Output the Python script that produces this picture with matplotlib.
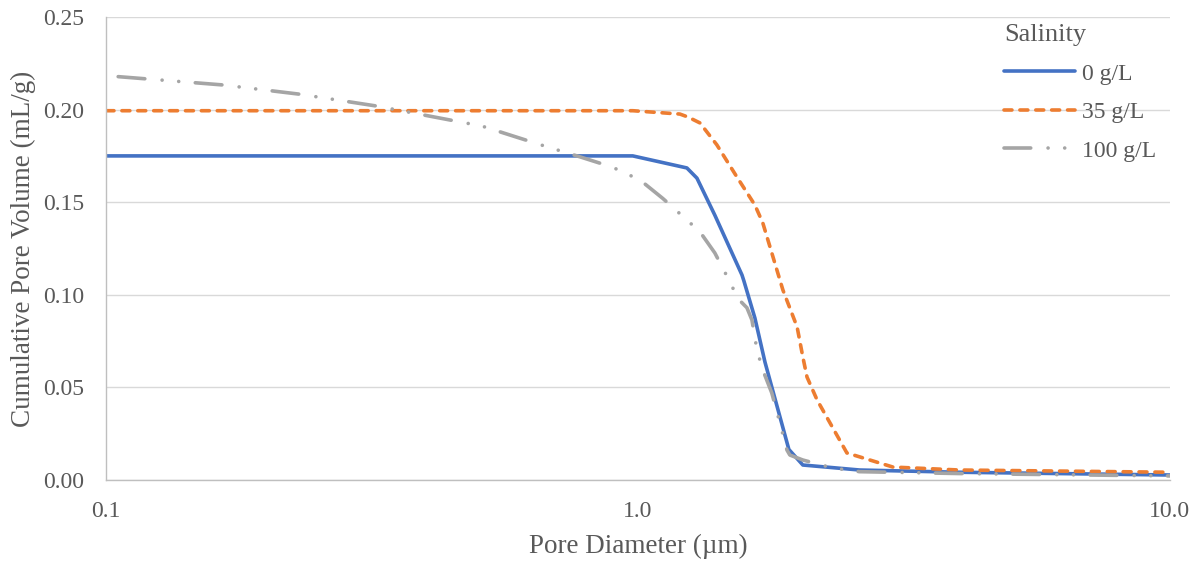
import numpy as np
import matplotlib
matplotlib.use("Agg")
import matplotlib.pyplot as plt
from matplotlib.ticker import FixedLocator, NullLocator

# pore diameter (um) and cumulative pore volume (mL/g) for each salinity
d_0 = [0.1, 0.978, 1.236, 1.291, 1.395, 1.569, 1.582, 1.659, 1.733, 1.922, 2.042, 2.61, 4.0, 10.0]
v_0 = [0.175, 0.175, 0.1685, 0.163, 0.143, 0.1107, 0.1075, 0.0875, 0.0637, 0.0165, 0.0081, 0.0054, 0.0042, 0.0027]

d_35 = [0.1, 0.978, 1.199, 1.242, 1.308, 1.407, 1.535, 1.659, 1.717, 1.873, 1.992, 2.042, 2.079, 2.172, 2.471, 3.015, 4.02, 10.0]
v_35 = [0.1994, 0.1994, 0.1976, 0.196, 0.1928, 0.181, 0.1636, 0.1485, 0.1388, 0.1026, 0.0826, 0.0664, 0.0556, 0.0432, 0.0146, 0.007, 0.0054, 0.0042]

d_100 = [0.1054, 0.166, 0.2315, 0.323, 0.443, 0.509, 0.668, 0.778, 0.894, 1.009, 1.114, 1.236, 1.308, 1.395, 1.489, 1.541,
         1.603, 1.638, 1.674, 1.717, 1.785, 1.849, 1.906, 1.930, 2.042, 2.324, 2.61, 4.0, 10.0]
v_100 = [0.2178, 0.2133, 0.2083, 0.2019, 0.1944, 0.1911, 0.1803, 0.1745, 0.169, 0.162, 0.152, 0.1404, 0.134, 0.1226, 0.107, 0.098,
         0.093, 0.0864, 0.0702, 0.0594, 0.047, 0.0308, 0.0162, 0.0135, 0.0108, 0.0065, 0.0045, 0.0035, 0.0022]

labels = ["0 g/L", "35 g/L", "100 g/L"]
xticks = [0.1, 1.0, 10.0]
yticks = [0.0, 0.05, 0.10, 0.15, 0.20, 0.25]

plt.rcParams['font.family'] = ['Liberation Serif', 'DejaVu Serif']
txt = '#595959'

fig = plt.figure(figsize=(11.98, 5.63), dpi=100)
ax = fig.add_axes([0.0885, 0.1474, 0.888, 0.8224])

lw = 2.6
ax.plot(d_0, v_0, color='#4472C4', lw=lw, solid_capstyle='round', label=labels[0])
ax.plot(d_35, v_35, color='#ED7D31', lw=lw, ls=(0, (2.2, 2.2)), dash_capstyle='round', label=labels[1])
ax.plot(d_100, v_100, color='#A5A5A5', lw=lw, ls=(0, (7.4, 4.8, 0.01, 4.6, 0.01, 4.6)),
        dash_capstyle='round', label=labels[2])

ax.set_xscale('log')
ax.set_xlim(0.1, 10)
ax.set_ylim(0, 0.25)
ax.xaxis.set_major_locator(FixedLocator(xticks))
ax.xaxis.set_minor_locator(NullLocator())
ax.set_xticklabels(["%.1f" % t for t in xticks])
ax.set_yticks(yticks)
ax.set_yticklabels(["%.2f" % t for t in yticks])
ax.tick_params(length=0, labelsize=17, colors=txt, pad=16)
ax.tick_params(axis='x', pad=15)

ax.grid(axis='y', color='#D9D9D9', lw=1)
ax.set_axisbelow(True)
for s in ['top', 'right']:
    ax.spines[s].set_visible(False)
for s in ['left', 'bottom']:
    ax.spines[s].set_color('#BFBFBF')
    ax.spines[s].set_linewidth(1)

ax.set_xlabel('Pore Diameter (µm)', fontsize=19.5, color=txt, labelpad=9)
ax.set_ylabel('Cumulative Pore Volume (mL/g)', fontsize=19.5, color=txt, labelpad=5)

leg = ax.legend(title='Salinity', loc='upper left', bbox_to_anchor=(0.835, 1.005), frameon=False,
                fontsize=17, title_fontsize=19, alignment='left', handlelength=3.0,
                handletextpad=0.3, labelspacing=0.72, borderaxespad=0.0)
for t in leg.get_texts():
    t.set_color(txt)
leg.get_title().set_color(txt)

fig.savefig('out.png', dpi=100)
